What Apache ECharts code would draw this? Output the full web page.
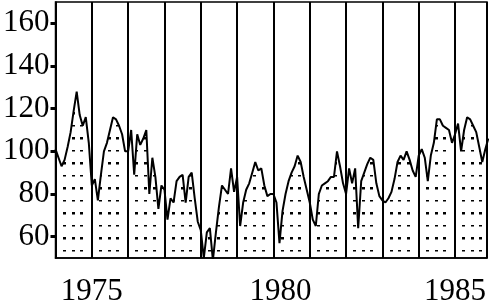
<!DOCTYPE html>
<html>
<head>
<meta charset="utf-8">
<script src="https://cdn.jsdelivr.net/npm/echarts@6/dist/echarts.min.js"></script>
<style>html,body{margin:0;padding:0;background:#fff;}#c{width:489px;height:307px;}</style>
</head>
<body>
<div id="c"></div>
<script>
// ---- data (monthly values) ----
const years = [1974, 1975, 1976, 1977, 1978, 1979, 1980, 1981, 1982, 1983, 1984, 1985];
const v1974 = [101, 97, 93, 96, 102, 109, 119, 128, 117, 112, 116, 104];
const v1975 = [84, 87, 77, 89, 100, 104, 110, 116, 115, 112, 108, 100];
const v1976 = [100, 110, 89, 108, 103, 106, 110, 80, 97, 88, 73, 84];
const v1977 = [82, 68, 78, 76, 86, 88, 89, 76, 88, 90, 78, 67];
const v1978 = [63, 50, 62, 64, 49, 62, 74, 84, 82, 80, 92, 81];
const v1979 = [88, 65, 76, 82, 85, 90, 95, 91, 92, 84, 79, 80];
const v1980 = [80, 76, 57, 72, 80, 86, 90, 93, 98, 95, 88, 82];
const v1981 = [76, 68, 65, 80, 84, 85, 86, 88, 88, 100, 93, 85];
const v1982 = [80, 92, 85, 92, 64, 86, 90, 94, 97, 96, 85, 79];
const v1983 = [77, 76, 78, 81, 87, 95, 98, 96, 100, 96, 91, 88];
const v1984 = [98, 101, 97, 86, 98, 104, 115, 115, 112, 111, 110, 104];
const v1985 = [108, 113, 100, 110, 116, 115, 112, 109, 102, 95, 101, 106];
const yearValues = [v1974, v1975, v1976, v1977, v1978, v1979, v1980, v1981, v1982, v1983, v1984, v1985];
const yTickValues = [60, 80, 100, 120, 140, 160];
const xTickLabels = [1975, 1980, 1985];

const points = [];
years.forEach((yr, i) => yearValues[i].forEach((v, m) => points.push([yr + m / 12, v])));

const FONT = 'Liberation Serif';
const chart = echarts.init(document.getElementById('c'), null, {renderer: 'canvas'});

const option = {
  animation: false,
  backgroundColor: '#fff',
  grid: {left: 55, right: 2, top: 2, bottom: 48, show: true, borderColor: '#000', borderWidth: 1.5, backgroundColor: 'transparent'},
  xAxis: {
    type: 'value', min: 1974, max: 1985.88, interval: 1,
    axisLine: {show: true, lineStyle: {color: '#000', width: 1.5}},
    axisTick: {show: false},
    splitLine: {show: true, lineStyle: {color: '#000', width: 2}},
    axisLabel: {
      color: '#000', fontFamily: FONT, fontSize: 31, margin: 18,
      showMinLabel: false, showMaxLabel: false,
      formatter: v => {
        if (!xTickLabels.includes(Math.round(v))) return '';
        return Math.round(v) === 1980 ? '{s|' + v + '}' : String(v);
      },
      rich: {s: {fontFamily: FONT, fontSize: 31, color: '#000', padding: [0, 0, 0, 14]}}
    }
  },
  yAxis: {
    type: 'value', min: 50, max: 170,
    axisLine: {show: true, lineStyle: {color: '#000', width: 1.5}},
    axisTick: {show: true, length: 5, lineStyle: {color: '#000', width: 3}, customValues: yTickValues},
    splitLine: {show: false},
    axisLabel: {color: '#000', fontFamily: FONT, fontSize: 31, margin: 6, customValues: yTickValues}
  },
  series: [{
    type: 'line',
    data: points,
    showSymbol: false,
    lineStyle: {color: '#000', width: 2},
    areaStyle: {color: 'rgba(0,0,0,0)', origin: 'start', opacity: 1},
    z: 3
  }]
};
chart.setOption(option);

// build dotted pattern aligned to the year bands
function makePattern() {
  const W = 489, H = 25;
  const cv = document.createElement('canvas');
  cv.width = W; cv.height = H;
  const ctx = cv.getContext('2d');
  ctx.fillStyle = '#000';
  const bottom = chart.convertToPixel({yAxisIndex: 0}, 50);
  const row0 = ((bottom - 8) % H + H) % H;
  const rows = [row0, (row0 + 12.5) % H];
  years.forEach(yr => {
    const a = chart.convertToPixel({xAxisIndex: 0}, yr);
    const b = chart.convertToPixel({xAxisIndex: 0}, yr + 1);
    const w = b - a;
    [0.23, 0.47, 0.70].forEach(f => {
      const x = Math.round(a + f * w) - 1;
      rows.forEach(r => ctx.fillRect(x, Math.round(r) - 1, 3, 2.5));
    });
  });
  return cv;
}
chart.setOption({series: [{areaStyle: {color: {image: makePattern(), repeat: 'repeat'}, origin: 'start', opacity: 1}}]});
</script>
</body>
</html>
